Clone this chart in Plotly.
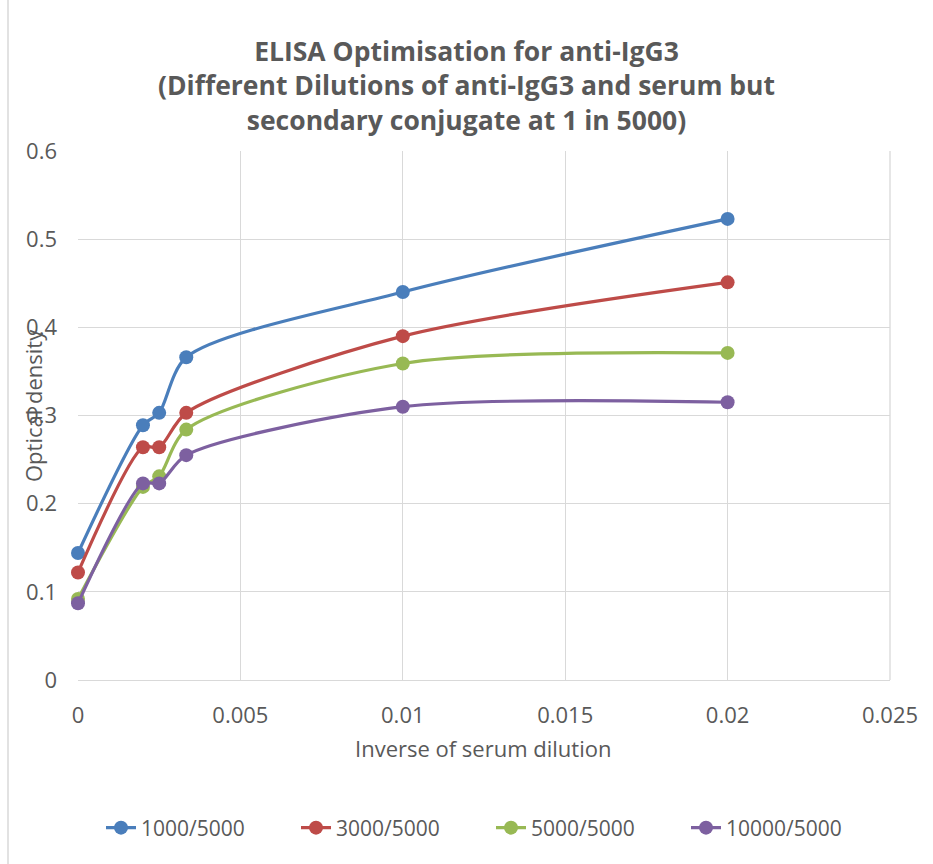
import plotly.graph_objects as go

x_vals = [0, 0.002, 0.0025, 0.003333, 0.01, 0.02]
series_names = ["1000/5000", "3000/5000", "5000/5000", "10000/5000"]
s1 = [0.144, 0.289, 0.303, 0.366, 0.440, 0.523]
s2 = [0.122, 0.264, 0.264, 0.303, 0.390, 0.451]
s3 = [0.092, 0.219, 0.231, 0.284, 0.359, 0.371]
s4 = [0.087, 0.223, 0.223, 0.255, 0.310, 0.315]
colors = ["#4a7ebb", "#be4b48", "#98b954", "#7d60a0"]

W, H = 933, 864
L, R, T, B = 78, 890, 151, 680

fig = go.Figure()
for name, ys, c in zip(series_names, [s1, s2, s3, s4], colors):
    fig.add_trace(go.Scatter(
        x=x_vals, y=ys, name=name, mode="lines+markers", cliponaxis=False,
        line=dict(color=c, width=3.2, shape="spline", smoothing=0.8),
        marker=dict(color=c, size=14),
    ))

def px_x(p):
    return (p - L) / (R - L)

def px_y(p):
    return (B - p) / (B - T)

grid = "#d9d9d9"
FONT = "Open Sans, Liberation Sans, sans-serif"
tickfont = dict(family=FONT, size=22, color="#595959")
fig.update_layout(
    width=W, height=H,
    margin=dict(l=L, r=W - R, t=T, b=H - B),
    paper_bgcolor="white", plot_bgcolor="white",
    title=dict(
        text="ELISA Optimisation for anti-IgG3<br>(Different Dilutions of anti-IgG3 and serum but<br>secondary conjugate at 1 in 5000)",
        x=0.5, xanchor="center", y=1 - 61 / H, yanchor="middle",
        font=dict(family=FONT, size=26.5, color="#595959", weight="bold"),
    ),
    xaxis=dict(range=[0, 0.025], tickvals=[0, 0.005, 0.01, 0.015, 0.02, 0.025],
               ticktext=["0", "0.005", "0.01", "0.015", "0.02", "0.025"],
               showgrid=True, gridcolor=grid, gridwidth=1.3, zeroline=False,
               showline=True, linecolor=grid, linewidth=1.3, mirror=False,
               ticks="", tickfont=tickfont, ticklabelstandoff=15),
    yaxis=dict(range=[0, 0.6], tickvals=[0, 0.1, 0.2, 0.3, 0.4, 0.5, 0.6],
               ticktext=["0", "0.1", "0.2", "0.3", "0.4", "0.5", "0.6"],
               showgrid=True, gridcolor=grid, gridwidth=1.3, zeroline=False,
               showline=False, ticks="", tickfont=tickfont, ticklabelstandoff=20),
    legend=dict(orientation="h", x=px_x(491), xanchor="center", y=px_y(828), yanchor="middle",
                font=dict(family=FONT, size=21, color="#595959"),
                entrywidth=150, entrywidthmode="pixels", tracegroupgap=0),
    showlegend=True,
)
fig.add_shape(type="line", xref="paper", yref="paper", x0=1, x1=1, y0=0, y1=1,
              line=dict(color=grid, width=1.3))
fig.add_annotation(text="Inverse of serum dilution", xref="paper", yref="paper",
                   x=px_x(483), y=px_y(748), xanchor="center", yanchor="middle",
                   showarrow=False,
                   font=dict(family=FONT, size=22, color="#595959"))
fig.add_annotation(text="Optical density", xref="paper", yref="paper",
                   x=px_x(33), y=px_y(406), xanchor="center", yanchor="middle",
                   showarrow=False, textangle=-90,
                   font=dict(family=FONT, size=22, color="#595959"))
fig.add_shape(type="line", xref="paper", yref="paper", x0=px_x(8), x1=px_x(8),
              y0=px_y(0), y1=px_y(864), line=dict(color=grid, width=1.5))
fig.write_html("out.html")
